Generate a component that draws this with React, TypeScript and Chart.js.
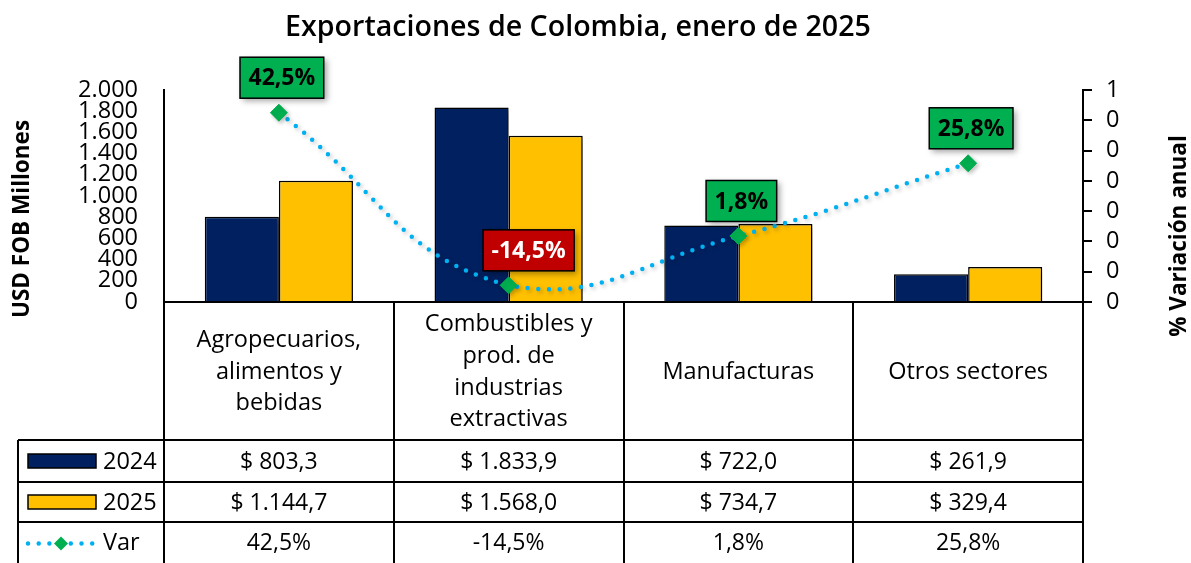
import React, { useEffect, useRef } from "react";
import { Chart, registerables } from "chart.js";

Chart.register(...registerables);

const chartTitle = "Exportaciones de Colombia, enero de 2025";
const leftAxisTitle = "USD FOB Millones";
const rightAxisTitle = "% Variación anual";
const categoryLines = [
  ["Agropecuarios,", "alimentos y", "bebidas"],
  ["Combustibles y", "prod. de", "industrias", "extractivas"],
  ["Manufacturas"],
  ["Otros sectores"],
];
const seriesNames = ["2024", "2025", "Var"];
const values2024 = [803.3, 1833.9, 722.0, 261.9];
const values2025 = [1144.7, 1568.0, 734.7, 329.4];
const variation = [42.5, -14.5, 1.8, 25.8];
const leftTickLabels = ["0", "200", "400", "600", "800", "1.000", "1.200", "1.400", "1.600", "1.800", "2.000"];
const rightTickLabels = ["0", "0", "0", "0", "0", "0", "0", "1"];

const FONT = "'Open Sans', sans-serif";
const NAVY = "#002060";
const GOLD = "#FFC000";
const LINE = "#00B0F0";
const GREEN = "#00B050";
const RED = "#C00000";

function fmtMoney(v: number): string {
  const [i, d] = v.toFixed(1).split(".");
  const withDots = i.replace(/\B(?=(\d{3})+(?!\d))/g, ".");
  return "$ " + withDots + "," + d;
}
function fmtPct(v: number): string {
  return v.toFixed(1).replace(".", ",") + "%";
}

function diamond(ctx: CanvasRenderingContext2D, x: number, y: number, r: number) {
  ctx.beginPath();
  ctx.moveTo(x, y - r);
  ctx.lineTo(x + r, y);
  ctx.lineTo(x, y + r);
  ctx.lineTo(x - r, y);
  ctx.closePath();
  ctx.fillStyle = GREEN;
  ctx.fill();
}

const excelPlugin = {
  id: "excelExtras",
  beforeDatasetDraw(chart: any, args: any) {
    const ctx = chart.ctx;
    ctx.save();
    if (args.meta.type === "bar") {
      ctx.shadowColor = "rgba(0,0,0,0.35)";
      ctx.shadowBlur = 6;
      ctx.shadowOffsetX = 4;
      ctx.shadowOffsetY = 3;
    } else {
      ctx.shadowColor = "rgba(0,0,0,0.25)";
      ctx.shadowBlur = 4;
      ctx.shadowOffsetX = 2;
      ctx.shadowOffsetY = 2;
    }
  },
  afterDatasetDraw(chart: any) {
    chart.ctx.restore();
  },
  afterDraw(chart: any) {
    const ctx: CanvasRenderingContext2D = chart.ctx;
    const area = chart.chartArea;
    const xs = chart.scales.x;
    const colW = (area.right - area.left) / categoryLines.length;
    const bottom = area.bottom;
    const tableLeft = 18;
    const rowTop = bottom + 138;
    const rowH = [42, 40, 41];
    const rowY = [rowTop, rowTop + rowH[0], rowTop + rowH[0] + rowH[1], rowTop + rowH[0] + rowH[1] + rowH[2]];

    ctx.save();
    // title
    ctx.fillStyle = "#000";
    ctx.textAlign = "center";
    ctx.textBaseline = "middle";
    ctx.font = `600 28.6px ${FONT}`;
    ctx.fillText(chartTitle, 578, 28);

    // axis titles
    ctx.font = `bold 22.5px ${FONT}`;
    ctx.save();
    ctx.translate(23, 219);
    ctx.rotate(-Math.PI / 2);
    ctx.fillText(leftAxisTitle, 0, 0);
    ctx.restore();
    ctx.save();
    ctx.translate(1180, 236);
    ctx.rotate(-Math.PI / 2);
    ctx.fillText(rightAxisTitle, 0, 0);
    ctx.restore();

    // table lines
    ctx.strokeStyle = "#000";
    ctx.lineWidth = 2;
    ctx.beginPath();
    ctx.moveTo(area.left, bottom);
    ctx.lineTo(area.right, bottom);
    for (let i = 0; i <= categoryLines.length; i++) {
      const x = Math.round(area.left + i * colW);
      ctx.moveTo(x, bottom);
      ctx.lineTo(x, 600);
    }
    ctx.moveTo(tableLeft, rowY[0]);
    ctx.lineTo(tableLeft, 600);
    for (let r = 0; r < 3; r++) {
      ctx.moveTo(tableLeft, rowY[r]);
      ctx.lineTo(area.right, rowY[r]);
    }
    ctx.stroke();

    // category labels
    ctx.font = `23.5px ${FONT}`;
    ctx.fillStyle = "#000";
    const catMid = (bottom + rowY[0]) / 2 + 1;
    const lh = 31.8;
    categoryLines.forEach((lines, i) => {
      const cx = xs.getPixelForValue(i);
      const y0 = catMid - ((lines.length - 1) * lh) / 2;
      lines.forEach((t, k) => ctx.fillText(t, cx, y0 + k * lh));
    });

    // table values
    ctx.font = `23px ${FONT}`;
    const rowsText = [values2024.map(fmtMoney), values2025.map(fmtMoney), variation.map(fmtPct)];
    rowsText.forEach((row, r) => {
      const cy = (rowY[r] + rowY[r + 1]) / 2 + 1;
      row.forEach((t, i) => ctx.fillText(t, xs.getPixelForValue(i), cy));
    });

    // legend keys
    ctx.textAlign = "left";
    ctx.font = `23.5px ${FONT}`;
    const keyX = 28;
    const keyW = 68;
    [NAVY, GOLD].forEach((c, r) => {
      const cy = (rowY[r] + rowY[r + 1]) / 2;
      ctx.fillStyle = c;
      ctx.fillRect(keyX, cy - 7, keyW, 14);
      ctx.lineWidth = 1.5;
      ctx.strokeRect(keyX, cy - 7, keyW, 14);
      ctx.fillStyle = "#000";
      ctx.fillText(seriesNames[r], 103, cy + 1);
    });
    {
      const cy = (rowY[2] + rowY[3]) / 2 + 1;
      ctx.save();
      ctx.strokeStyle = LINE;
      ctx.lineWidth = 4.5;
      ctx.lineCap = "round";
      ctx.setLineDash([0, 10.7]);
      ctx.beginPath();
      ctx.moveTo(keyX, cy);
      ctx.lineTo(keyX + keyW, cy);
      ctx.stroke();
      ctx.restore();
      diamond(ctx, keyX + keyW / 2 - 1, cy, 7);
      ctx.fillStyle = "#000";
      ctx.fillText(seriesNames[2], 103, cy);
    }

    // data labels
    const meta = chart.getDatasetMeta(0);
    ctx.font = `bold 23px ${FONT}`;
    ctx.textAlign = "center";
    meta.data.forEach((pt: any, i: number) => {
      const v = variation[i];
      const t = fmtPct(v);
      const w = ctx.measureText(t).width + 17;
      const h = 41;
      const dx = v < 0 ? 20 : 3;
      const cx = pt.x + dx;
      const cy = pt.y - 35;
      ctx.save();
      ctx.shadowColor = "rgba(0,0,0,0.35)";
      ctx.shadowBlur = 6;
      ctx.shadowOffsetX = 3;
      ctx.shadowOffsetY = 3;
      ctx.fillStyle = v < 0 ? RED : GREEN;
      ctx.fillRect(cx - w / 2, cy - h / 2, w, h);
      ctx.restore();
      ctx.lineWidth = 1.5;
      ctx.strokeStyle = "#000";
      ctx.strokeRect(cx - w / 2, cy - h / 2, w, h);
      ctx.fillStyle = v < 0 ? "#fff" : "#000";
      ctx.fillText(t, cx, cy + 1);
    });
    ctx.restore();
  },
};

export default function App() {
  const ref = useRef<HTMLCanvasElement | null>(null);
  useEffect(() => {
    if (!ref.current) return;
    Chart.defaults.font.family = FONT;
    const chart = new Chart(ref.current, {
      type: "bar",
      data: {
        labels: categoryLines.map((l) => l.join(" ")),
        datasets: [
          {
            type: "line",
            label: seriesNames[2],
            data: variation,
            yAxisID: "y1",
            order: 0,
            borderColor: LINE,
            borderWidth: 4.5,
            borderDash: [0, 10.7],
            borderCapStyle: "round",
            tension: 0.45,
            pointStyle: "rectRot",
            pointRadius: 8.5,
            pointBackgroundColor: GREEN,
            pointBorderColor: GREEN,
            pointBorderWidth: 1,
            clip: false,
          } as any,
          {
            type: "bar",
            label: seriesNames[0],
            data: values2024,
            yAxisID: "y",
            order: 1,
            backgroundColor: NAVY,
            borderColor: "#000",
            borderWidth: 1.5,
            categoryPercentage: 0.645,
            barPercentage: 1,
          },
          {
            type: "bar",
            label: seriesNames[1],
            data: values2025,
            yAxisID: "y",
            order: 1,
            backgroundColor: GOLD,
            borderColor: "#000",
            borderWidth: 1.5,
            categoryPercentage: 0.645,
            barPercentage: 1,
          },
        ],
      },
      options: {
        animation: false,
        responsive: true,
        maintainAspectRatio: false,
        layout: { padding: { top: 90, bottom: 261, left: 0, right: 0 } },
        plugins: { legend: { display: false }, title: { display: false }, tooltip: { enabled: false } },
        scales: {
          x: { display: false, offset: true },
          y: {
            position: "left",
            min: 0,
            max: 2000,
            ticks: {
              stepSize: 200,
              autoSkip: false,
              color: "#000",
              font: { size: 23.5, family: FONT },
              padding: 26,
              callback: (_v: any, i: number) => leftTickLabels[i],
            },
            grid: { display: false, drawTicks: false },
            border: { display: true, color: "#000", width: 2 },
            afterFit: (s: any) => {
              s.width = 164;
            },
          },
          y1: {
            position: "right",
            min: -20,
            max: 50,
            ticks: {
              stepSize: 10,
              autoSkip: false,
              color: "#000",
              font: { size: 23.5, family: FONT },
              padding: 14,
              callback: (_v: any, i: number) => rightTickLabels[i],
            },
            grid: { drawOnChartArea: false, drawTicks: true, tickLength: 9, color: "#000", lineWidth: 2 },
            border: { display: true, color: "#000", width: 2 },
            afterFit: (s: any) => {
              s.width = 108;
            },
          },
        },
      },
      plugins: [excelPlugin],
    });
    return () => chart.destroy();
  }, []);
  return (
    <div style={{ position: "fixed", left: 0, top: 0, width: 1191, height: 563, background: "#fff" }}>
      <canvas ref={ref} />
    </div>
  );
}
